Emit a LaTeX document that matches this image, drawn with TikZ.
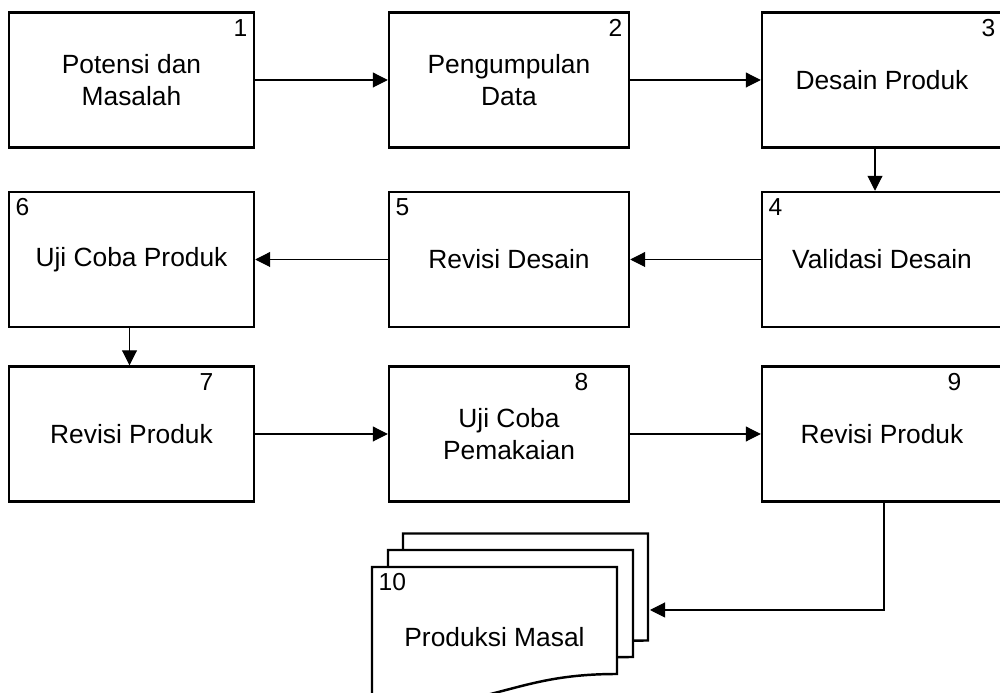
\documentclass[tikz,border=0pt]{standalone}
\usepackage{fontspec}
\setmainfont{Liberation Sans}
\usetikzlibrary{positioning,arrows.meta}
\tikzset{
    stage/.style = {
        draw,
        shape=rectangle,
        minimum height=2.7cm,
        minimum width=4.8cm,
        line width=1.4pt,
        align=center,
        font=\fontsize{15}{18}\selectfont
    },
    wide/.style = {
        minimum width=4.9cm
    },
    num/.style = {
        inner sep=0.15cm,
        font=\fontsize{14}{16}\selectfont
    },
    docline/.style = {
        draw,
        fill=white,
        line width=1.4pt
    },
    flow/.style = {
        draw,
        ->,
        line width=0.6pt
    },
    >={Triangle[length=3mm,width=3mm]},
}
\begin{document}
\begin{tikzpicture}
            \useasboundingbox (0,0) rectangle (20,13.86);
            \clip (0,0) rectangle (20,13.86);

            \node[stage, wide] (potensi) at (2.63,12.26) {Potensi dan\\Masalah};
            \node[stage] (data) at (10.18,12.26) {Pengumpulan\\Data};
            \node[stage] (desain) at (17.64,12.26) {Desain Produk};
            \node[stage] (validasi) at (17.64,8.67) {Validasi Desain};
            \node[stage] (revdesain) at (10.18,8.67) {Revisi Desain};
            \node[stage, wide] (ujicoba) at (2.63,8.67) {Uji Coba Produk};
            \node[stage, wide] (revproduk) at (2.63,5.18) {Revisi Produk};
            \node[stage] (pemakaian) at (10.18,5.18) {Uji Coba\\Pemakaian};
            \node[stage] (revakhir) at (17.64,5.18) {Revisi Produk};

            % stacked documents
            \foreach \dx/\dy in {0.62/0.67, 0.32/0.34, 0/0}
                \path[docline, shift={(\dx,\dy)}] (7.44,2.52) -- (12.34,2.52) -- (12.34,0.38)
                    .. controls (11.2,0.38) and (10.6,0.18) .. (9.89,0)
                    .. controls (9.2,-0.18) and (8.4,-0.38) .. (7.44,-0.38) -- cycle;
            \node[stage, draw=none, minimum width=4.9cm, minimum height=2.8cm] (masal) at (9.89,1.12) {Produksi Masal};
            \coordinate (stackin) at (13.0,1.66);

            \node[num, anchor=north east] (n1) at (potensi.north east) {1};
            \node[num, anchor=north east] (n2) at (data.north east) {2};
            \node[num, anchor=north east] (n3) at (desain.north east) {3};
            \node[num, anchor=north west] (n4) at (validasi.north west) {4};
            \node[num, anchor=north west] (n5) at (revdesain.north west) {5};
            \node[num, anchor=north west] (n6) at (ujicoba.north west) {6};
            \node[num, anchor=north east, xshift=-0.68cm] (n7) at (revproduk.north east) {7};
            \node[num, anchor=north east, xshift=-0.68cm] (n8) at (pemakaian.north east) {8};
            \node[num, anchor=north east, xshift=-0.68cm] (n9) at (revakhir.north east) {9};
            \node[num, anchor=north west] (n10) at (masal.north west) {10};

            \path[flow] (potensi) -- (data);
            \path[flow] (data) -- (desain);
            \path[flow] ([xshift=-0.14cm]desain.south) -- ([xshift=-0.14cm]validasi.north);
            \path[flow] (validasi) -- (revdesain);
            \path[flow] (revdesain) -- (ujicoba);
            \path[flow] ([xshift=-0.04cm]ujicoba.south) -- ([xshift=-0.04cm]revproduk.north);
            \path[flow] (revproduk) -- (pemakaian);
            \path[flow] (pemakaian) -- (revakhir);
            \path[flow] ([xshift=0.04cm]revakhir.south) |- (stackin);

        \end{tikzpicture}
\end{document}
